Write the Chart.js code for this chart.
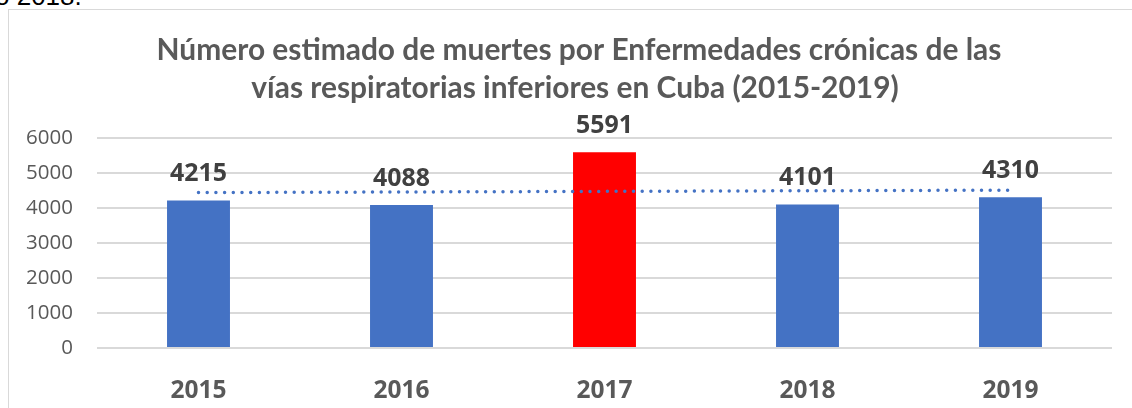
<!DOCTYPE html>
<html>
<head>
<meta charset="utf-8">
<script src="https://cdn.jsdelivr.net/npm/chart.js@4/dist/chart.umd.min.js"></script>
<style>
  html, body { margin: 0; padding: 0; background: #fff; overflow: hidden; }
  body { width: 1132px; height: 408px; position: relative; }
  #above { position: absolute; left: -5px; top: -19px; font: 26px "Liberation Sans", Arial, sans-serif; color: #000; white-space: nowrap; }
  #frame { position: absolute; left: 8px; top: 9px; width: 1200px; height: 500px; border: 1px solid #d9d9d9; box-sizing: border-box; }
  #wrap { position: absolute; left: 0; top: 0; width: 1132px; height: 408px; }
</style>
</head>
<body>
<div id="above">o 2018.</div>
<div id="frame"></div>
<div id="wrap"><canvas id="c" width="1132" height="408"></canvas></div>
<script>
// ---- data ----
const years = ['2015', '2016', '2017', '2018', '2019'];
const deaths = [4215, 4088, 5591, 4101, 4310];
const trendEnds = [4440, null, null, null, 4510];   // dotted linear trend
const yTicks = [0, 1000, 2000, 3000, 4000, 5000, 6000];
const titleLines = [
  'Número estimado de muertes por Enfermedades crónicas de las',
  'vías respiratorias inferiores en Cuba (2015-2019)'
];

// ---- styles ----
const BLUE = '#4472C4';
const RED = '#FF0000';
const barColors = [BLUE, BLUE, RED, BLUE, BLUE];
const TITLE_FAMILY = 'Lato, "Open Sans", sans-serif';
const FAMILY = '"Open Sans", "DejaVu Sans", sans-serif';

const mctx = document.createElement('canvas').getContext('2d');
function fitSize(text, weight, family, target) {
  mctx.font = weight + ' 100px ' + family;
  const w = mctx.measureText(text).width;
  return Math.round(100 * target / w * 10) / 10;
}
const titleSize = fitSize(titleLines[0], 'bold', TITLE_FAMILY, 845);
const labelSize = fitSize('4215', 'bold', FAMILY, 57);
const tickSize = fitSize('6000', 'normal', FAMILY, 47);
const xSize = fitSize('2015', 'bold', FAMILY, 56);

const titlePlugin = {
  id: 'titleLines',
  afterDraw(chart) {
    const ctx = chart.ctx;
    ctx.save();
    ctx.font = 'bold ' + titleSize + 'px ' + TITLE_FAMILY;
    ctx.fillStyle = '#595959';
    ctx.textAlign = 'center';
    ctx.textBaseline = 'alphabetic';
    ctx.fillText(titleLines[0], 579, 60);
    ctx.fillText(titleLines[1], 575, 98);
    ctx.restore();
  }
};

const valueLabels = {
  id: 'valueLabels',
  afterDatasetsDraw(chart) {
    const ctx = chart.ctx;
    const meta = chart.getDatasetMeta(1);
    ctx.save();
    ctx.font = 'bold ' + labelSize + 'px ' + FAMILY;
    ctx.fillStyle = '#404040';
    ctx.textAlign = 'center';
    ctx.textBaseline = 'alphabetic';
    meta.data.forEach((bar, i) => {
      ctx.fillText(String(deaths[i]), bar.x, bar.y - 19);
    });
    ctx.restore();
  }
};

new Chart(document.getElementById('c'), {
  type: 'bar',
  data: {
    labels: years,
    datasets: [
      {
        type: 'line',
        data: trendEnds,
        spanGaps: true,
        borderColor: BLUE,
        borderWidth: 3.5,
        borderDash: [0, 8.7],
        borderCapStyle: 'round',
        pointRadius: 0,
        fill: false,
        order: 0
      },
      {
        type: 'bar',
        data: deaths,
        backgroundColor: barColors,
        borderWidth: 0,
        categoryPercentage: 1,
        barPercentage: 0.31,
        order: 1
      }
    ]
  },
  options: {
    responsive: false,
    animation: false,
    layout: { padding: { top: 138, left: 0, right: 20, bottom: 0 } },
    plugins: { legend: { display: false }, tooltip: { enabled: false }, title: { display: false } },
    scales: {
      x: {
        grid: { display: false },
        border: { display: false },
        ticks: { color: '#595959', font: { family: FAMILY, size: xSize, weight: 'bold' }, padding: 20 },
        afterFit(s) { s.height = 60; }
      },
      y: {
        min: 0, max: 6000,
        afterBuildTicks(s) { s.ticks = yTicks.map(v => ({ value: v })); },
        grid: { color: '#d9d9d9', lineWidth: 2, drawTicks: false },
        border: { display: false },
        ticks: {
          color: '#595959',
          font: { family: FAMILY, size: tickSize },
          padding: 24,
          callback: v => String(v)
        },
        afterFit(s) { s.width = 97; }
      }
    }
  },
  plugins: [titlePlugin, valueLabels]
});
</script>
</body>
</html>
